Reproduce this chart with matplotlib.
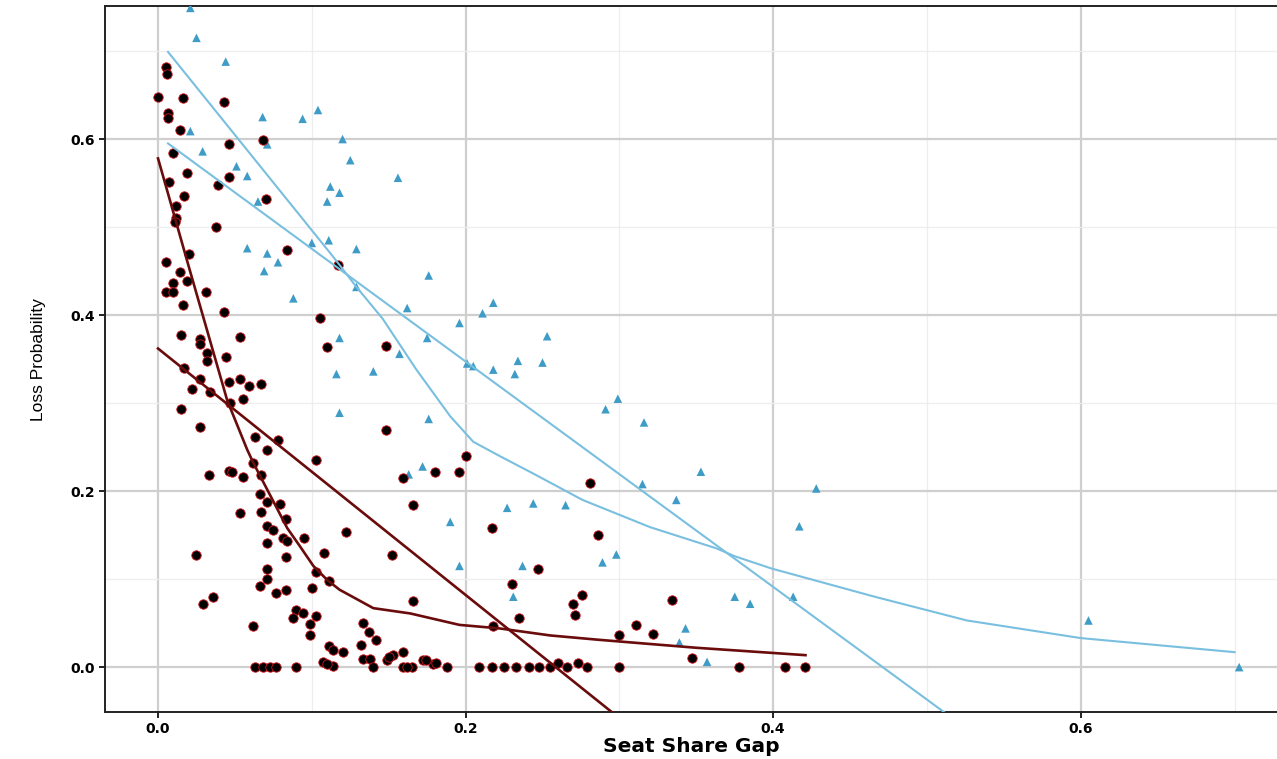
"""
Loss probability vs. seat share gap: scatter of two groups with linear and loess fits.
"""

import matplotlib

matplotlib.use("Agg")
from matplotlib import pyplot as plt
from matplotlib.ticker import MultipleLocator

# ---- data ----
red_x = [0.005, 0.006, 0.000, 0.016, 0.043, 0.0065, 0.0065, 0.014, 0.046, 0.068,
         0.010, 0.019, 0.007, 0.046, 0.039, 0.017, 0.070, 0.012, 0.012, 0.011,
         0.038, 0.020, 0.005, 0.014, 0.019, 0.010, 0.005, 0.010, 0.031, 0.016,
         0.043, 0.084, 0.117, 0.105, 0.015, 0.053, 0.027, 0.027, 0.110, 0.032,
         0.044, 0.032, 0.017, 0.027, 0.046, 0.053, 0.059, 0.067, 0.022, 0.034,
         0.047, 0.055, 0.015, 0.027, 0.063, 0.078, 0.071, 0.103, 0.148, 0.148,
         0.200, 0.180, 0.196, 0.159, 0.166, 0.217, 0.122, 0.062, 0.033, 0.046,
         0.048, 0.055, 0.067, 0.066, 0.071, 0.079, 0.053, 0.067, 0.083, 0.071,
         0.075, 0.081, 0.084, 0.095, 0.071, 0.025, 0.083, 0.108, 0.071, 0.103,
         0.071, 0.066, 0.111, 0.077, 0.083, 0.100, 0.036, 0.029, 0.090, 0.094,
         0.103, 0.088, 0.099, 0.062, 0.099, 0.133, 0.137, 0.142, 0.111, 0.114,
         0.120, 0.132, 0.107, 0.114, 0.133, 0.138, 0.140, 0.063, 0.068, 0.073,
         0.077, 0.090, 0.110, 0.149, 0.153, 0.159, 0.159, 0.165, 0.172, 0.179,
         0.188, 0.209, 0.217, 0.225, 0.233, 0.241, 0.248, 0.255, 0.260, 0.266,
         0.273, 0.279, 0.300, 0.281, 0.286, 0.152, 0.247, 0.230, 0.276, 0.270,
         0.166, 0.235, 0.271, 0.218, 0.300, 0.150, 0.174, 0.181, 0.162, 0.334,
         0.311, 0.322, 0.347, 0.378, 0.408, 0.421]
red_y = [0.682, 0.674, 0.648, 0.647, 0.642, 0.630, 0.624, 0.610, 0.594, 0.599,
         0.584, 0.561, 0.551, 0.557, 0.548, 0.535, 0.532, 0.524, 0.510, 0.506,
         0.500, 0.469, 0.460, 0.449, 0.439, 0.437, 0.426, 0.426, 0.426, 0.411,
         0.403, 0.474, 0.457, 0.397, 0.377, 0.375, 0.373, 0.367, 0.364, 0.357,
         0.352, 0.348, 0.340, 0.327, 0.324, 0.327, 0.319, 0.322, 0.316, 0.313,
         0.300, 0.305, 0.293, 0.273, 0.262, 0.258, 0.247, 0.235, 0.365, 0.269,
         0.240, 0.222, 0.222, 0.215, 0.184, 0.158, 0.153, 0.232, 0.218, 0.223,
         0.222, 0.216, 0.218, 0.197, 0.188, 0.185, 0.175, 0.176, 0.168, 0.160,
         0.156, 0.147, 0.143, 0.147, 0.141, 0.127, 0.125, 0.130, 0.112, 0.108,
         0.100, 0.092, 0.098, 0.084, 0.088, 0.090, 0.080, 0.072, 0.065, 0.061,
         0.058, 0.056, 0.049, 0.047, 0.036, 0.050, 0.040, 0.031, 0.024, 0.020,
         0.017, 0.025, 0.006, 0.001, 0.009, 0.009, 0.000, 0.000, 0.000, 0.000,
         0.000, 0.000, 0.003, 0.008, 0.014, 0.017, 0.000, 0.000, 0.008, 0.004,
         0.000, 0.000, 0.000, 0.000, 0.000, 0.000, 0.000, 0.000, 0.005, 0.000,
         0.005, 0.000, 0.000, 0.209, 0.150, 0.127, 0.111, 0.094, 0.082, 0.072,
         0.075, 0.056, 0.059, 0.047, 0.036, 0.011, 0.008, 0.005, 0.000, 0.076,
         0.048, 0.038, 0.010, 0.000, 0.000, 0.000]

blue_x = [0.021, 0.025, 0.044, 0.104, 0.094, 0.068, 0.120, 0.125, 0.029, 0.021,
          0.071, 0.051, 0.058, 0.112, 0.118, 0.110, 0.065, 0.058, 0.071, 0.078,
          0.069, 0.088, 0.100, 0.111, 0.129, 0.129, 0.118, 0.116, 0.140, 0.118,
          0.156, 0.176, 0.162, 0.218, 0.211, 0.196, 0.175, 0.157, 0.253, 0.201,
          0.205, 0.218, 0.234, 0.250, 0.232, 0.299, 0.291, 0.316, 0.353, 0.315,
          0.337, 0.428, 0.417, 0.227, 0.244, 0.265, 0.190, 0.176, 0.172, 0.163,
          0.289, 0.298, 0.196, 0.237, 0.231, 0.272, 0.375, 0.385, 0.413, 0.343,
          0.339, 0.357, 0.605, 0.703]
blue_y = [0.749, 0.715, 0.688, 0.633, 0.623, 0.625, 0.600, 0.576, 0.586, 0.609,
          0.594, 0.569, 0.558, 0.546, 0.539, 0.529, 0.529, 0.476, 0.470, 0.460,
          0.450, 0.419, 0.482, 0.485, 0.475, 0.432, 0.374, 0.333, 0.336, 0.289,
          0.556, 0.445, 0.408, 0.414, 0.402, 0.391, 0.374, 0.356, 0.376, 0.345,
          0.342, 0.338, 0.348, 0.346, 0.333, 0.305, 0.293, 0.278, 0.222, 0.208,
          0.190, 0.203, 0.160, 0.181, 0.186, 0.184, 0.165, 0.282, 0.228, 0.219,
          0.119, 0.128, 0.115, 0.115, 0.080, 0.060, 0.080, 0.072, 0.080, 0.044,
          0.028, 0.006, 0.053, 0.000]

# fitted lines (linear fits given by their end points, loess as traced curves)
red_lin_x = [0.0, 0.30]
red_lin_y = [0.362, -0.058]
red_loess_x = [0.0, 0.020, 0.045, 0.058, 0.062, 0.084, 0.092, 0.101, 0.110, 0.118,
               0.140, 0.164, 0.196, 0.222, 0.255, 0.287, 0.350, 0.421]
red_loess_y = [0.578, 0.455, 0.303, 0.247, 0.232, 0.158, 0.138, 0.115, 0.099, 0.088,
               0.067, 0.061, 0.048, 0.044, 0.036, 0.031, 0.022, 0.0136]

blue_lin_x = [0.0065, 0.52]
blue_lin_y = [0.595, -0.0625]
blue_loess_x = [0.0065, 0.114, 0.129, 0.146, 0.168, 0.190, 0.205, 0.222, 0.245, 0.276,
                0.320, 0.363, 0.375, 0.399, 0.466, 0.526, 0.600, 0.700]
blue_loess_y = [0.699, 0.466, 0.432, 0.396, 0.338, 0.285, 0.256, 0.240, 0.219, 0.190,
                0.159, 0.135, 0.126, 0.112, 0.080, 0.053, 0.033, 0.017]

RED_LINE = "#6a0c0c"
RED_EDGE = "#d8141c"
BLUE_PT = "#3f9cc6"
BLUE_LINE = "#79bfdf"


def main() -> None:
    plt.rcParams["font.family"] = ["Liberation Sans", "DejaVu Sans"]

    fig = plt.figure(figsize=(12.77, 7.59), dpi=100)
    ax = fig.add_axes([0.0822, 0.0619, 0.9178, 0.930])

    # grid: ggplot-like major + minor
    ax.xaxis.set_major_locator(MultipleLocator(0.2))
    ax.yaxis.set_major_locator(MultipleLocator(0.2))
    ax.xaxis.set_minor_locator(MultipleLocator(0.1))
    ax.yaxis.set_minor_locator(MultipleLocator(0.1))
    ax.grid(which="major", color="#cfcfcf", lw=1.6)
    ax.grid(which="minor", color="#eeeeee", lw=0.9)
    ax.set_axisbelow(True)

    ax.scatter(blue_x, blue_y, marker="^", s=38, color=BLUE_PT, edgecolors="none", zorder=3)
    ax.scatter(red_x, red_y, marker="o", s=46, facecolor="black", edgecolors=RED_EDGE,
               linewidths=0.6, zorder=3)

    ax.plot(blue_lin_x, blue_lin_y, color=BLUE_LINE, lw=1.5, zorder=4)
    ax.plot(blue_loess_x, blue_loess_y, color=BLUE_LINE, lw=1.5, zorder=4)
    ax.plot(red_lin_x, red_lin_y, color=RED_LINE, lw=1.9, zorder=4)
    ax.plot(red_loess_x, red_loess_y, color=RED_LINE, lw=1.9, zorder=4)

    ax.set_xlim(-0.0345, 0.7276)
    ax.set_ylim(-0.051, 0.751)

    for side in ("left", "bottom", "top"):
        ax.spines[side].set_color("#222222")
        ax.spines[side].set_linewidth(1.4)
    ax.spines["right"].set_visible(False)

    ax.tick_params(which="minor", length=0)
    ax.tick_params(which="major", length=4, width=1.4, color="#222222", pad=3)
    ticks = [0.0, 0.2, 0.4, 0.6]
    tick_labels = ["0.0", "0.2", "0.4", "0.6"]
    tick_font = dict(family="DejaVu Sans", fontweight="bold", fontsize=10)
    ax.set_xticks(ticks)
    ax.set_yticks(ticks)
    ax.set_xticklabels(tick_labels, **tick_font)
    ax.set_yticklabels(tick_labels, **tick_font)

    ax.set_xlabel("Seat Share Gap", family="DejaVu Sans", fontsize=14.5, fontweight="bold",
                  labelpad=1)
    ax.set_ylabel("Loss Probability", fontsize=12.5, labelpad=18)

    fig.savefig("out.png", dpi=100)


if __name__ == "__main__":
    main()
